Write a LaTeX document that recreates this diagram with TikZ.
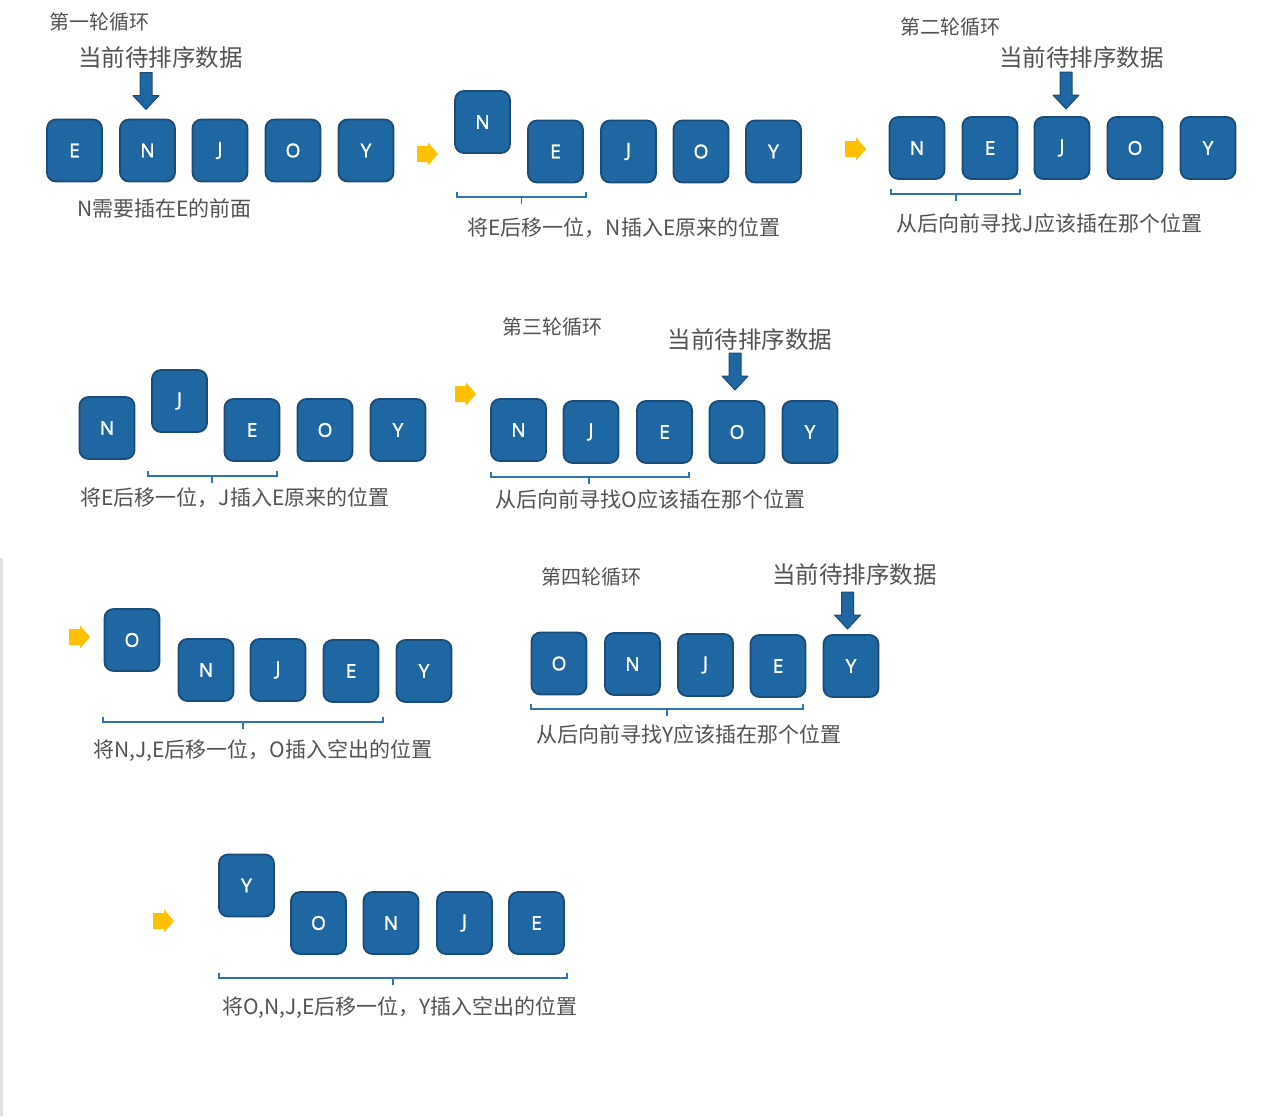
\documentclass[tikz,border=0pt]{standalone}
\usepackage{fontspec}
\newfontfamily\cjk{Noto Sans CJK SC}
\newfontfamily\boxfont{Open Sans}[FakeBold=1.6]
\definecolor{boxfill}{RGB}{31,103,163}
\definecolor{boxline}{RGB}{26,76,122}
\definecolor{bracecol}{RGB}{46,117,182}
\definecolor{txt}{RGB}{82,82,82}
\definecolor{yel}{RGB}{255,192,0}
\tikzset{
  blk/.style={draw=boxline, fill=boxfill, line width=1.8pt, rounded corners=9pt,
    minimum width=55pt, minimum height=62pt, text=white,
    font=\boxfont\fontsize{19}{21}\selectfont, inner sep=0pt},
  captxt/.style={text=txt, font=\cjk\fontsize{21}{24}\selectfont, inner sep=0pt},
  rndtxt/.style={text=txt, font=\cjk\fontsize{20}{24}\selectfont, inner sep=0pt},
  curtxt/.style={text=txt, font=\cjk\fontsize{23.5}{26}\selectfont, inner sep=0pt},
  brcline/.style={draw=bracecol, line width=1.2pt},
  dnarr/.style={fill=boxfill, draw=boxline, line width=1pt, line join=round},
  yarr/.style={fill=yel}
}
\newcommand\mydnarrow[2]{\path[dnarr, shift={(#1,#2)}] (-6,0) -- (6,0) -- (6,23) -- (13,23) -- (0,37) -- (-13,23) -- (-6,23) -- cycle;}
\newcommand\myyarrow[2]{\path[yarr, shift={(#1,#2)}] (0,-8) -- (11,-8) -- (11,-11.5) -- (21,0) -- (11,11.5) -- (11,8) -- (0,8) -- cycle;}
\newcommand\mybrace[4]{\draw[brcline] (#1,#3-5) -- (#1,#3) -- (#2,#3) -- (#2,#3-5); \draw[brcline] (#4,#3) -- (#4,#3+7);}
\begin{document}
\begin{tikzpicture}[x=1pt,y=-1pt]
\useasboundingbox[fill=white] (0,0) rectangle (1281,1116);
\draw[black!12, line width=2.5pt] (1.3,558) -- (1.3,1116);

% ---- group 1
\node[rndtxt] (h1) at (99.5,22) {第一轮循环};
\node[curtxt] (c1) at (160.5,58) {当前待排序数据};
\mydnarrow{146}{72.5}
\node[blk] (a1) at (74.5,150.5) {E};
\node[blk] (a2) at (147.5,150.5) {N};
\node[blk] (a3) at (220,150.5) {J};
\node[blk] (a4) at (293,150.5) {O};
\node[blk] (a5) at (366,150.5) {Y};
\node[captxt] (t1) at (164.5,208) {N需要插在E的前面};

% ---- group 2
\myyarrow{417}{154}
\node[blk] (b1) at (482.5,122) {N};
\node[blk] (b2) at (555.5,151.5) {E};
\node[blk] (b3) at (628.5,151.5) {J};
\node[blk] (b4) at (701,151.5) {O};
\node[blk] (b5) at (773.5,151.5) {Y};
\mybrace{457}{586}{197}{521.5}
\node[captxt] (t2) at (624,228) {将E后移一位，N插入E原来的位置};

% ---- group 3
\node[rndtxt] (h2) at (950.5,27) {第二轮循环};
\node[curtxt] (c2) at (1081.5,58) {当前待排序数据};
\mydnarrow{1066}{72}
\myyarrow{845}{149}
\node[blk] (c1n) at (917,148) {N};
\node[blk] (c2n) at (990,148) {E};
\node[blk] (c3n) at (1062,148) {J};
\node[blk] (c4n) at (1135,148) {O};
\node[blk] (c5n) at (1208,148) {Y};
\mybrace{891}{1020}{194}{956}
\node[captxt] (t3) at (1049.5,224) {从后向前寻找J应该插在那个位置};

% ---- group 4
\node[blk] (d1) at (107,428) {N};
\node[blk] (d2) at (179.5,401) {J};
\node[blk] (d3) at (252,430) {E};
\node[blk] (d4) at (325,430) {O};
\node[blk] (d5) at (398,430) {Y};
\mybrace{148}{277}{476}{212}
\node[captxt] (t4) at (235,498) {将E后移一位，J插入E原来的位置};

% ---- group 5
\node[rndtxt] (h3) at (552.5,327) {第三轮循环};
\node[curtxt] (c3) at (750,340) {当前待排序数据};
\mydnarrow{735}{353}
\myyarrow{455}{394}
\node[blk] (e1) at (518.5,430) {N};
\node[blk] (e2) at (591,432) {J};
\node[blk] (e3) at (664.5,432) {E};
\node[blk] (e4) at (737,432) {O};
\node[blk] (e5) at (810,432) {Y};
\mybrace{491}{689}{477}{589}
\node[captxt] (t5) at (650.5,500) {从后向前寻找O应该插在那个位置};

% ---- group 6
\myyarrow{69}{637}
\node[blk] (f1) at (132,640) {O};
\node[blk] (f2) at (206,670) {N};
\node[blk] (f3) at (278,670) {J};
\node[blk] (f4) at (351,671) {E};
\node[blk] (f5) at (424,671) {Y};
\mybrace{103}{383}{722}{243}
\node[captxt] (t6) at (263,751) {将N,J,E后移一位，O插入空出的位置};

% ---- group 7
\node[rndtxt] (h4) at (591,577) {第四轮循环};
\node[curtxt] (c4) at (854.5,575) {当前待排序数据};
\mydnarrow{847.5}{592}
\node[blk] (g1) at (559,663.5) {O};
\node[blk] (g2) at (632.5,664) {N};
\node[blk] (g3) at (705.5,665) {J};
\node[blk] (g4) at (778,666) {E};
\node[blk] (g5) at (851,666) {Y};
\mybrace{531}{803}{709}{667}
\node[captxt] (t7) at (689,734) {从后向前寻找Y应该插在那个位置};

% ---- group 8
\myyarrow{153}{921}
\node[blk] (k1) at (246.5,885.5) {Y};
\node[blk] (k2) at (318.5,923) {O};
\node[blk] (k3) at (391,923) {N};
\node[blk] (k4) at (464.5,923) {J};
\node[blk] (k5) at (536.5,923) {E};
\mybrace{219}{567}{978}{393}
\node[captxt] (t8) at (400,1008) {将O,N,J,E后移一位，Y插入空出的位置};
\end{tikzpicture}
\end{document}
